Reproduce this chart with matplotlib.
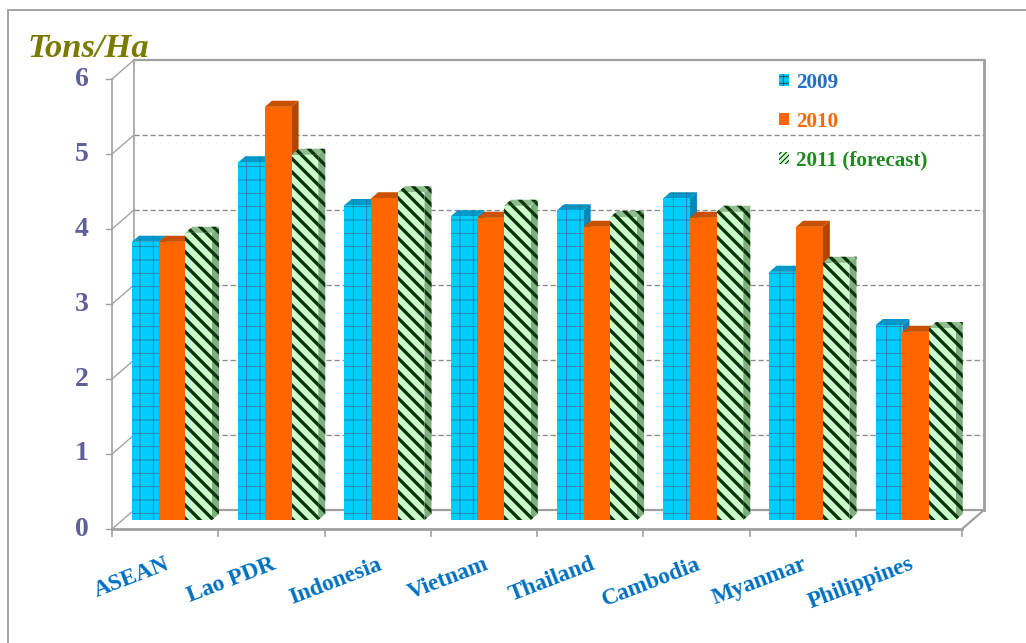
import matplotlib
matplotlib.use("Agg")
import matplotlib.pyplot as plt
from matplotlib.patches import Polygon, Rectangle
from matplotlib.lines import Line2D

countries = ["ASEAN", "Lao PDR", "Indonesia", "Vietnam", "Thailand",
             "Cambodia", "Myanmar", "Philippines"]
y2009 = [3.71, 4.77, 4.20, 4.05, 4.13, 4.29, 3.31, 2.60]
y2010 = [3.71, 5.51, 4.29, 4.03, 3.91, 4.03, 3.91, 2.51]
y2011 = [3.83, 4.87, 4.37, 4.19, 4.04, 4.11, 3.43, 2.56]
series_names = ["2009", "2010", "2011 (forecast)"]
yticks = [0, 1, 2, 3, 4, 5, 6]

W, H, DPI = 1026, 643, 80
plt.rcParams['font.family'] = ['Liberation Serif', 'DejaVu Serif']

fig = plt.figure(figsize=(W / DPI, H / DPI), dpi=DPI)
ax = fig.add_axes([0, 0, 1, 1])
# one category = 106.25 px, one ton/ha = 75 px
ax.set_xlim(-112 / 106.25, (W - 112) / 106.25)
ax.set_ylim((529 - H) / 75, 529 / 75)
ax.axis("off")

DX, DY = 22 / 106.25, 19 / 75      # depth of the 3d box
grey = "#a0a0a0"
n = len(countries)
ymax = yticks[-1]

# walls / floor
for k in yticks:
    ax.plot([0, DX], [k, k + DY], color=grey, lw=1.2, zorder=1)
    ax.plot([-0.06, 0], [k, k], color=grey, lw=1.2, zorder=1)
    if 0 < k < ymax:
        ax.plot([DX, n + DX], [k + DY, k + DY], color="#8c8c8c", lw=1.2,
                ls=(0, (4, 2)), zorder=1)
ax.plot([DX, n + DX], [ymax + DY, ymax + DY], color=grey, lw=2, zorder=1)
ax.plot([DX, n + DX], [DY, DY], color=grey, lw=2, zorder=1)
ax.plot([DX, DX], [DY, ymax + DY], color=grey, lw=1.5, zorder=1)
ax.plot([n + DX, n + DX], [DY, ymax + DY], color=grey, lw=2.5, zorder=1)
ax.plot([0, 0], [0, ymax], color=grey, lw=1.5, zorder=1)
ax.plot([0, n], [0, 0], color=grey, lw=2.5, zorder=1)
ax.plot([n, n + DX], [0, DY], color=grey, lw=2, zorder=1)
for i in range(n + 1):
    ax.plot([i, i], [0, -0.09], color=grey, lw=1.5, zorder=1)

for k in yticks:
    ax.text(-0.22, k, str(k), ha="right", va="center", fontsize=25,
            fontweight="bold", color="#5f5f9a")

# bars
styles = [
    dict(fc="#00ccff", hatch="+", hc="#2f7896", hlw=0.7, top="#0099cc", side="#0088bb"),
    dict(fc="#ff6600", hatch=None, hc="#ff6600", hlw=0.7, top="#c85000", side="#b04600"),
    dict(fc="#ccffcc", hatch="\\\\", hc="#0b330b", hlw=3.0, top="#8fbf8f", side="#7faf7f"),
]
data = [y2009, y2010, y2011]
w = 0.251
x0 = 0.188
b = 0.47 * DY
ddx, ddy = 0.32 * DX, 0.32 * DY

for s, (vals, st) in enumerate(zip(data, styles)):
    xs = [i + x0 + s * w for i in range(n)]
    with plt.rc_context({'hatch.linewidth': st["hlw"]}):
        bars = ax.bar(xs, vals, width=w, bottom=b, align="edge", color=st["fc"],
                      edgecolor=st["hc"], linewidth=0, hatch=st["hatch"])
        for i, (r, x, v) in enumerate(zip(bars, xs, vals)):
            z = 10 + i * 3 + s
            r.set_zorder(z + 0.5)
            side = Polygon([(x + w, b), (x + w + ddx, b + ddy), (x + w + ddx, b + v + ddy),
                            (x + w, b + v)], closed=True, facecolor=st["side"],
                           edgecolor=st["hc"], linewidth=0, hatch=st["hatch"], zorder=z)
            top = Polygon([(x, b + v), (x + w, b + v), (x + w + ddx, b + v + ddy),
                           (x + ddx, b + v + ddy)], closed=True, facecolor=st["top"],
                          edgecolor=st["hc"], linewidth=0, hatch=st["hatch"], zorder=z + 0.2)
            for p in (side, top):
                if hasattr(p, "set_hatch_linewidth"):
                    p.set_hatch_linewidth(st["hlw"])
                ax.add_patch(p)
            if hasattr(r, "set_hatch_linewidth"):
                r.set_hatch_linewidth(st["hlw"])

# category labels
for i, c in enumerate(countries):
    ax.text(i + 0.5, -0.33, c, rotation=21, rotation_mode="anchor", ha="right",
            va="top", fontsize=21, fontweight="bold", color="#0070c0")

# legend
with plt.rc_context({'hatch.linewidth': 0.6}):
    handles = [Rectangle((0, 0), 1, 1, facecolor="#00ccff", edgecolor="#1d5570", lw=0, hatch="++"),
               Rectangle((0, 0), 1, 1, facecolor="#ff6600", lw=0),
               Rectangle((0, 0), 1, 1, facecolor="#ccffcc", edgecolor="#0b330b", lw=0, hatch="/////")]
leg = ax.legend(handles, series_names, loc="upper left", bbox_to_anchor=(768 / W, 1 - 62 / H),
                bbox_transform=fig.transFigure, frameon=False, handlelength=0.5,
                handleheight=0.5, handletextpad=0.35, labelspacing=0.9, borderpad=0,
                prop=dict(family="Liberation Serif", weight="bold", size=19))
for t, col in zip(leg.get_texts(), ["#1f6fc9", "#ff6600", "#1e8b1e"]):
    t.set_color(col)

# title and frame
fig.text(27 / W, 1 - 57 / H, "Tons/Ha", fontsize=31, fontweight="bold", fontstyle="italic",
         color="#7a7a00", va="baseline")
fig.add_artist(Line2D([8 / W, 1], [1 - 10 / H, 1 - 10 / H], color="#a6a6a6", lw=1.8,
                      transform=fig.transFigure))
fig.add_artist(Line2D([8 / W, 8 / W], [0, 1 - 10 / H], color="#a6a6a6", lw=1.8,
                      transform=fig.transFigure))

fig.savefig("out.png", dpi=DPI)
